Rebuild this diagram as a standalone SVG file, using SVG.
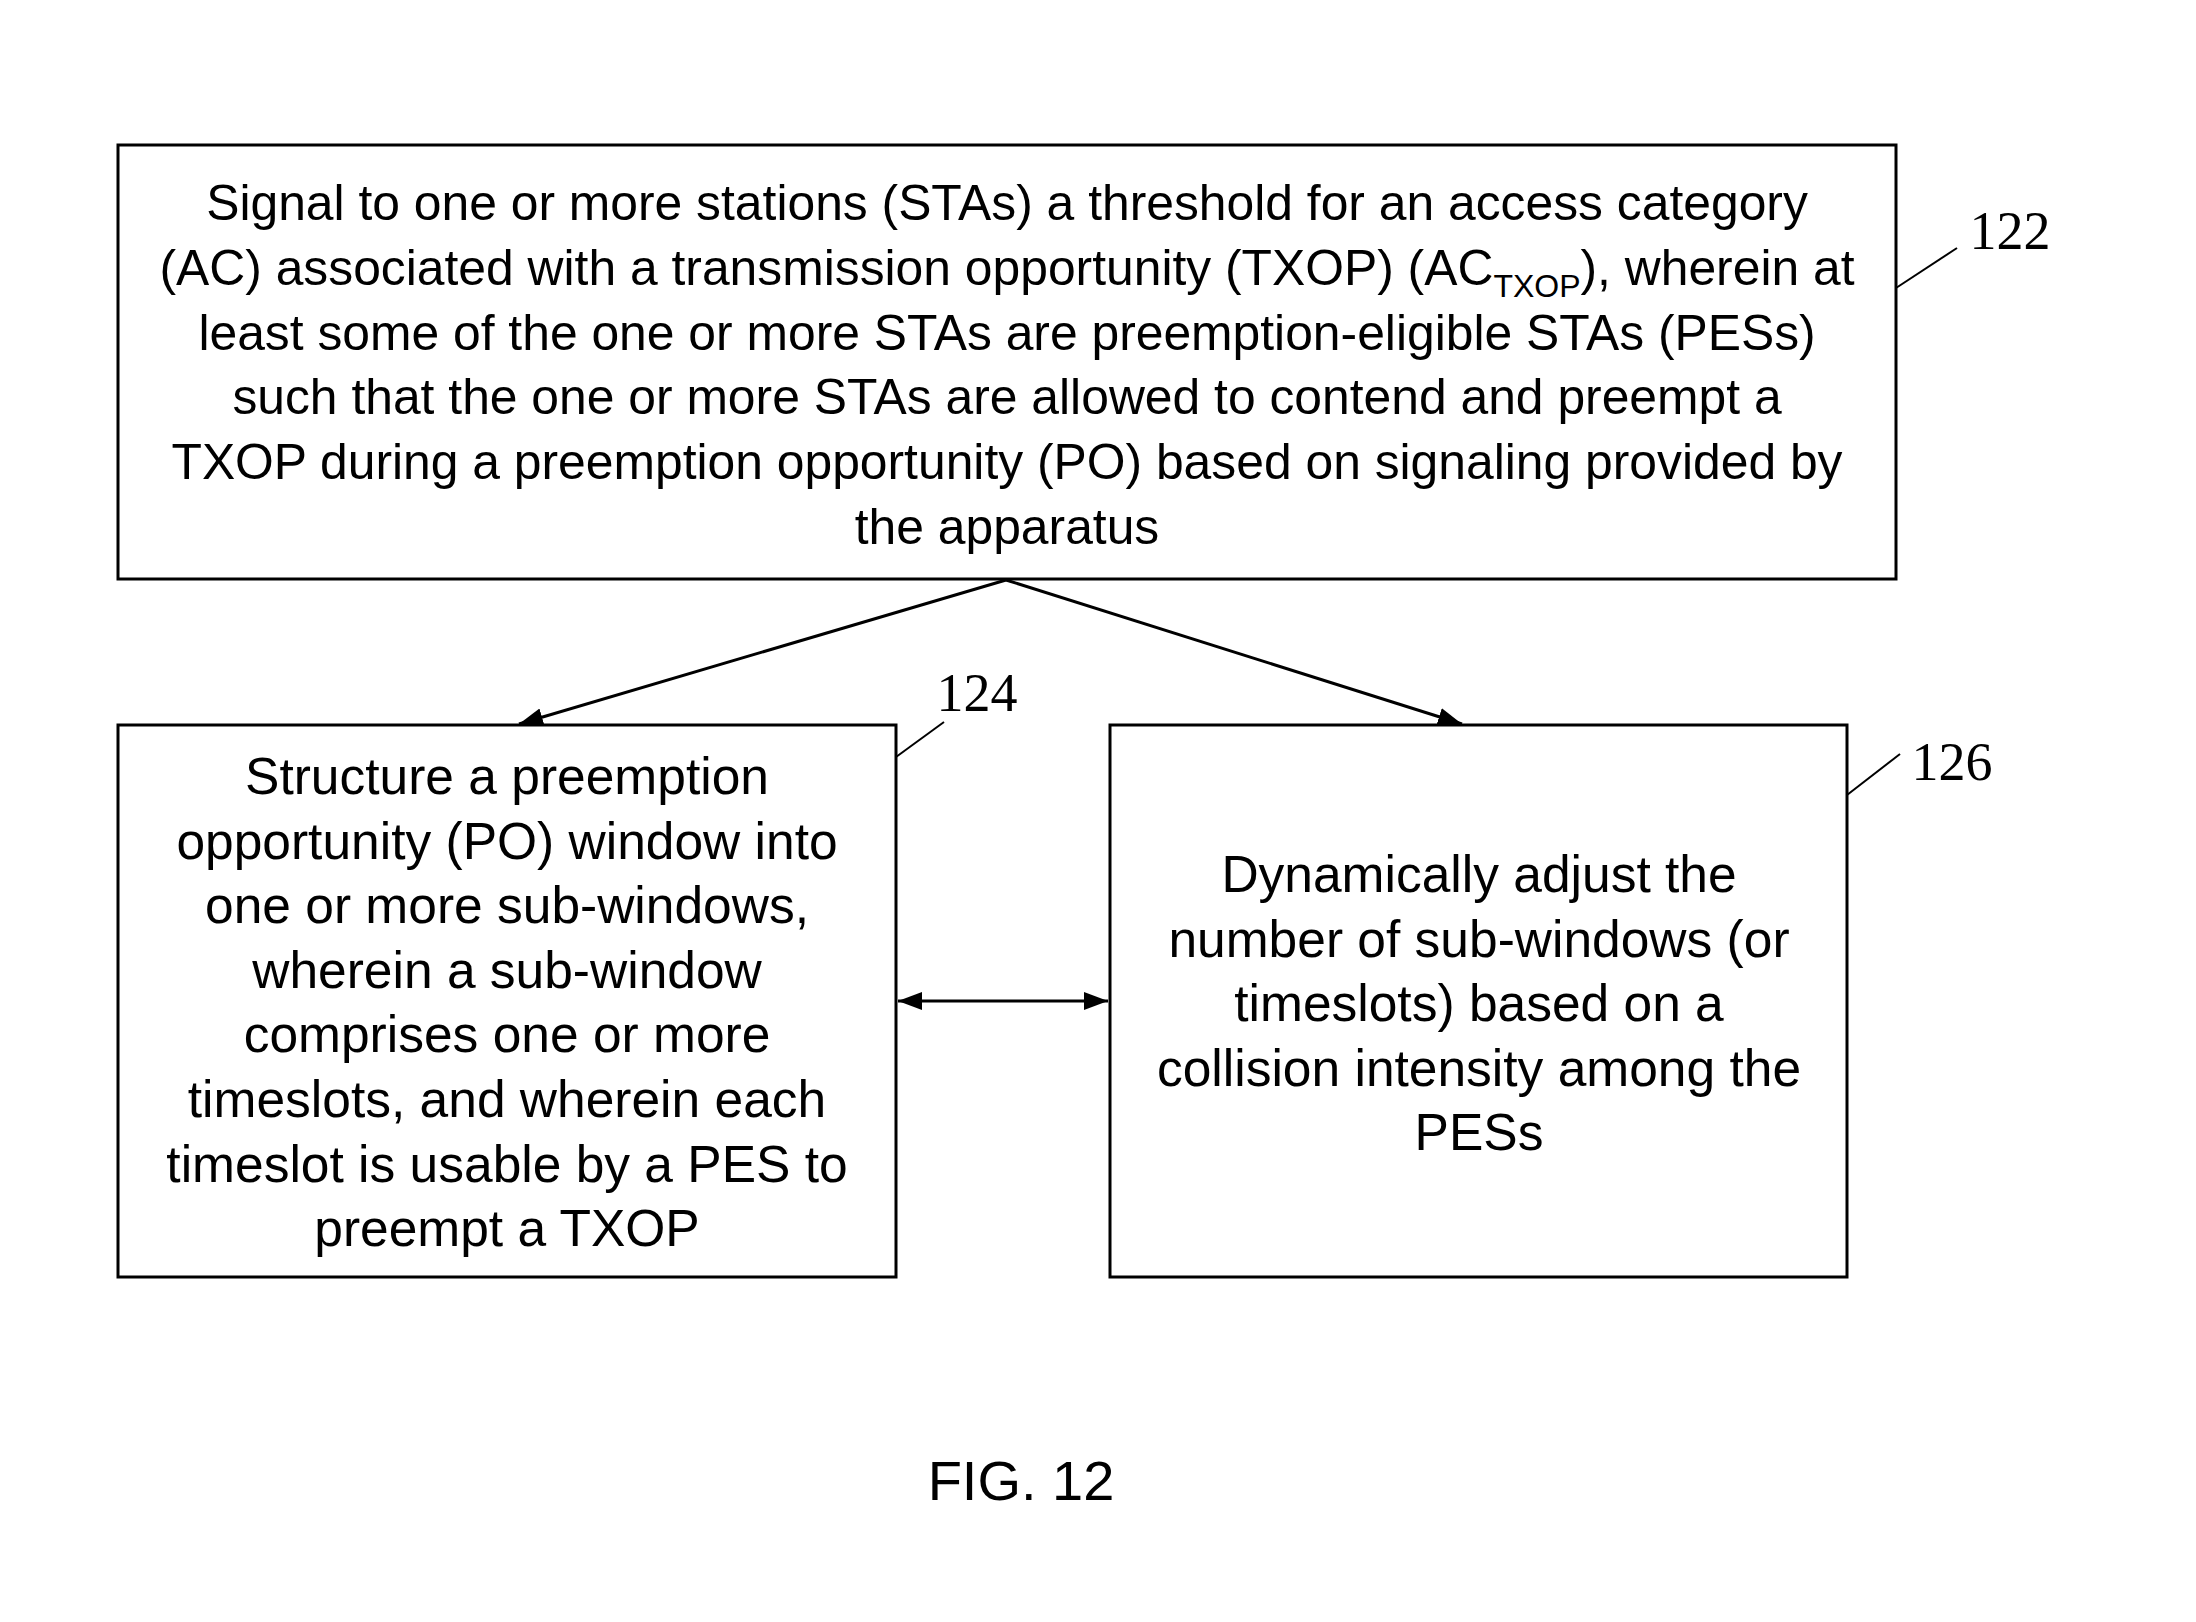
<svg xmlns="http://www.w3.org/2000/svg" width="2196" height="1622" viewBox="0 0 2196 1622">
<defs>
<style>
.box{fill:#fff;stroke:#000;stroke-width:3}
.t{font-family:"Liberation Sans",Arial,sans-serif;font-size:51.5px;fill:#000;text-anchor:middle}
.tt{font-family:"Liberation Sans",Arial,sans-serif;font-size:49.8px;fill:#000;text-anchor:middle}
.ref{font-family:"Liberation Serif","Times New Roman",serif;font-size:54px;fill:#000;text-anchor:middle}
.lead{stroke:#000;stroke-width:2;fill:none}
.conn{stroke:#000;stroke-width:3;fill:none}
</style>
<marker id="ah" markerUnits="userSpaceOnUse" markerWidth="26" markerHeight="20" refX="24" refY="9" orient="auto-start-reverse">
<path d="M0,0 L24,9 L0,18 z" fill="#000"/>
</marker>
</defs>
<rect width="2196" height="1622" fill="#fff"/>
<g id="connectors">
<line class="conn" x1="1006" y1="580" x2="519" y2="724" marker-end="url(#ah)"/>
<line class="conn" x1="1006" y1="580" x2="1462" y2="724" marker-end="url(#ah)"/>
<line class="conn" x1="898" y1="1001" x2="1108" y2="1001" marker-start="url(#ah)" marker-end="url(#ah)"/>
</g>
<g id="node-122">
<rect class="box" x="118" y="145" width="1778" height="434"/>
<text class="tt" x="1007" y="220">Signal to one or more stations (STAs) a threshold for an access category</text>
<text class="tt" x="1007" y="285">(AC) associated with a transmission opportunity (TXOP) (AC<tspan font-size="32" dy="12">TXOP</tspan><tspan dy="-12">), wherein at</tspan></text>
<text class="tt" x="1007" y="350">least some of the one or more STAs are preemption-eligible STAs (PESs)</text>
<text class="tt" x="1007" y="414">such that the one or more STAs are allowed to contend and preempt a</text>
<text class="tt" x="1007" y="479">TXOP during a preemption opportunity (PO) based on signaling provided by</text>
<text class="tt" x="1007" y="544">the apparatus</text>
<line class="lead" x1="1896" y1="288" x2="1957" y2="248"/>
<text class="ref" x="2010" y="249">122</text>
</g>
<g id="node-124">
<rect class="box" x="118" y="725" width="778" height="552"/>
<text class="t" x="507" y="794">Structure a preemption</text>
<text class="t" x="507" y="859">opportunity (PO) window into</text>
<text class="t" x="507" y="923">one or more sub-windows,</text>
<text class="t" x="507" y="988">wherein a sub-window</text>
<text class="t" x="507" y="1052">comprises one or more</text>
<text class="t" x="507" y="1117">timeslots, and wherein each</text>
<text class="t" x="507" y="1182">timeslot is usable by a PES to</text>
<text class="t" x="507" y="1246">preempt a TXOP</text>
<line class="lead" x1="896" y1="757" x2="944" y2="722"/>
<text class="ref" x="977" y="711">124</text>
</g>
<g id="node-126">
<rect class="box" x="1110" y="725" width="737" height="552"/>
<text class="t" x="1479" y="892">Dynamically adjust the</text>
<text class="t" x="1479" y="957">number of sub-windows (or</text>
<text class="t" x="1479" y="1021">timeslots) based on a</text>
<text class="t" x="1479" y="1086">collision intensity among the</text>
<text class="t" x="1479" y="1150">PESs</text>
<line class="lead" x1="1847" y1="795" x2="1900" y2="754"/>
<text class="ref" x="1952" y="780">126</text>
</g>
<text x="1021" y="1500" font-family="Liberation Sans,Arial,sans-serif" font-size="56" text-anchor="middle" fill="#000">FIG. 12</text>
</svg>
